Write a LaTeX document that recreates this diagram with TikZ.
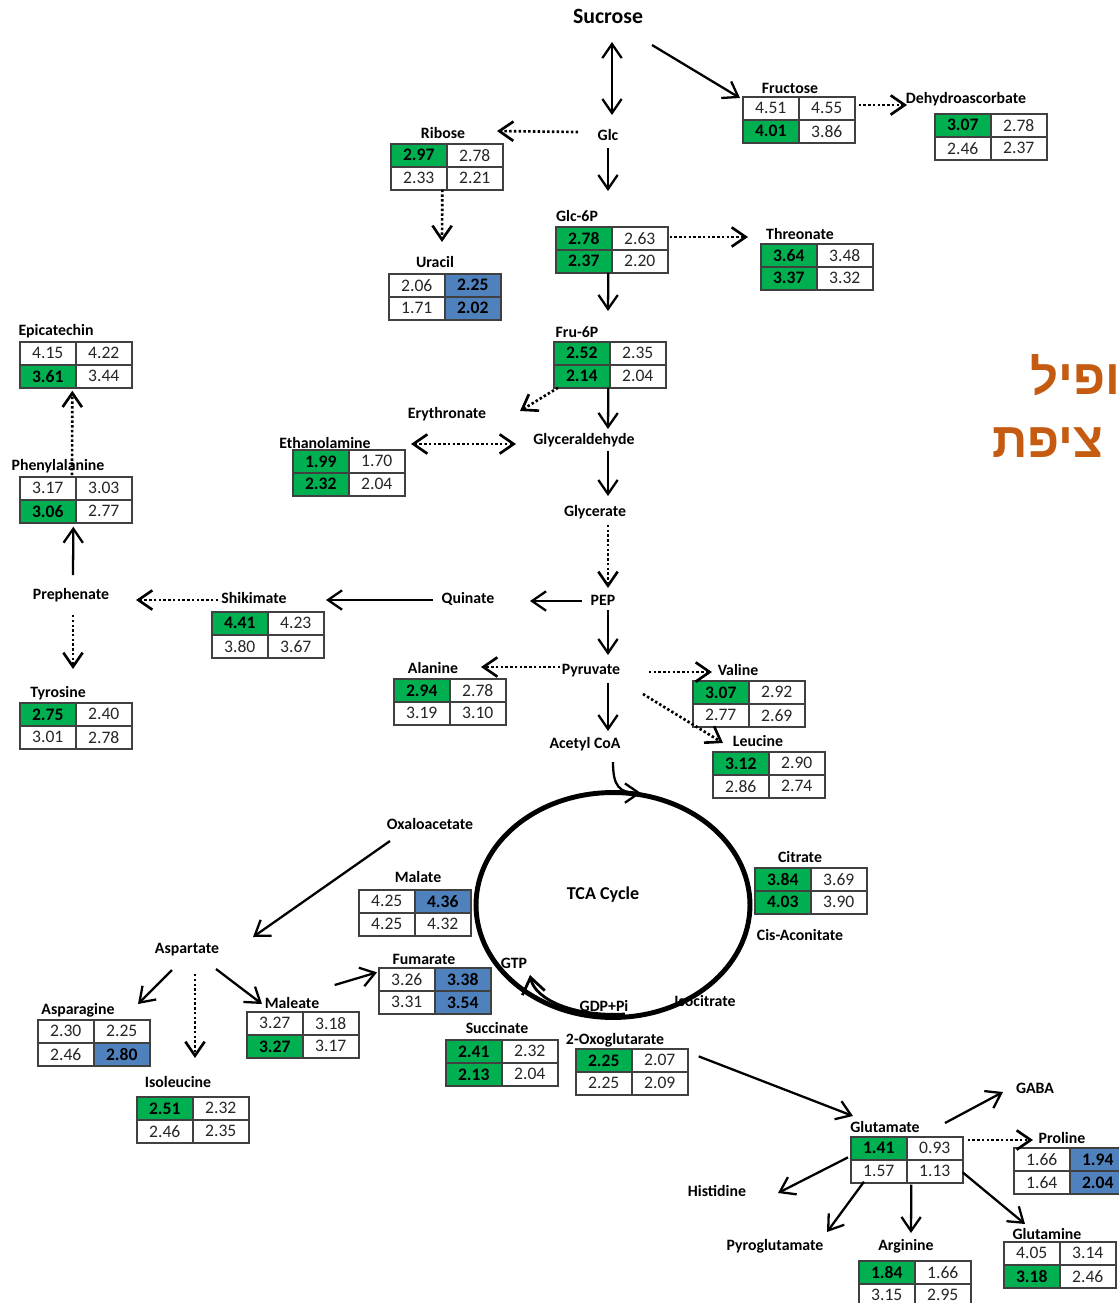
\documentclass[tikz,border=0pt]{standalone}
\usepackage{fontspec}
\setmainfont{Carlito}
\newfontfamily\hebfont[Script=Hebrew]{Liberation Sans}
\TeXXeTstate=1
\usetikzlibrary{arrows.meta,shapes.geometric,calc}
\definecolor{tgreen}{RGB}{0,176,80}
\definecolor{tblue}{RGB}{79,129,189}
\definecolor{horange}{RGB}{197,90,17}
\tikzset{
 lbl/.style={font=\bfseries\fontsize{9}{10}\selectfont, inner sep=0pt},
 cellbox/.style={draw=black!75, line width=0.9pt, minimum width=1.12cm, minimum height=0.46cm, inner sep=0pt, text=black!85, font=\fontsize{10}{11}\selectfont, anchor=north west},
 cg/.style={fill=tgreen, text=black, font=\bfseries\fontsize{10}{11}\selectfont},
 cw/.style={fill=white},
 cb/.style={fill=tblue, text=black, font=\bfseries\fontsize{10}{11}\selectfont},
 tabfr/.style={minimum width=2.24cm, minimum height=0.92cm, inner sep=0pt, anchor=north west},
 arr/.style={-{Straight Barb[length=8pt,width=11pt]}, line width=1.3pt},
 bigarr/.style={-{Straight Barb[length=9pt,width=13pt]}, line width=1.6pt},
 darr/.style={{Straight Barb[length=8pt,width=11pt]}-{Straight Barb[length=8pt,width=11pt]}, line width=1.3pt},
 dotl/.style={line width=1.5pt, dash pattern=on 1.4pt off 1.3pt}
}
\newcommand\mtab[3]{%
 \node[tabfr] (#1) at (#2) {};%
 \foreach \s/\v [count=\i from 0] in {#3}{%
  \pgfmathtruncatemacro\cc{mod(\i,2)}%
  \pgfmathtruncatemacro\rr{div(\i,2)}%
  \node[cellbox,\s] (#1-\i) at ([xshift=\cc*1.12cm,yshift=-\rr*0.46cm]#1.north west) {\v};%
 }%
}
\begin{document}
\begin{tikzpicture}[x=0.02cm,y=-0.02cm]
\useasboundingbox[fill=white] (0,0) rectangle (1119,1303);
% labels and tables
\node[lbl, font=\bfseries\fontsize{12.4}{14}\selectfont] (suc) at (608,16) {Sucrose};
\node[lbl] (glc) at (608,135) {Glc};
\node[lbl] (fru-l) at (790,88) {Fructose};
\mtab{fru}{742,96}{cw/4.51, cw/4.55, cg/4.01, cw/3.86}
\node[lbl] (dha-l) at (966,99) {Dehydroascorbate};
\mtab{dha}{934,113}{cg/3.07, cw/2.78, cw/2.46, cw/2.37}
\node[lbl] (rib-l) at (443,133) {Ribose};
\mtab{rib}{390,143}{cg/2.97, cw/2.78, cw/2.33, cw/2.21}
\node[lbl] (ura-l) at (435,262) {Uracil};
\mtab{ura}{388,273}{cw/2.06, cb/2.25, cw/1.71, cb/2.02}
\node[lbl] (g6p-l) at (577,216) {Glc-6P};
\mtab{g6p}{555,226}{cg/2.78, cw/2.63, cg/2.37, cw/2.20}
\node[lbl] (thr-l) at (800,234) {Threonate};
\mtab{thr}{760,243}{cg/3.64, cw/3.48, cg/3.37, cw/3.32}
\node[lbl] (f6p-l) at (577,332) {Fru-6P};
\mtab{f6p}{553,341}{cg/2.52, cw/2.35, cg/2.14, cw/2.04}
\node[lbl] (ery) at (447,414) {Erythronate};
\node[lbl] (gald) at (584,440) {Glyceraldehyde};
\node[lbl] (eth-l) at (325,443) {Ethanolamine};
\mtab{eth}{292,449}{cg/1.99, cw/1.70, cg/2.32, cw/2.04}
\node[lbl] (glyc) at (595,512) {Glycerate};
\node[lbl] (epi-l) at (56,331) {Epicatechin};
\mtab{epi}{19,341}{cw/4.15, cw/4.22, cg/3.61, cw/3.44}
\node[lbl] (phe-l) at (58,466) {Phenylalanine};
\mtab{phe}{19,476}{cw/3.17, cw/3.03, cg/3.06, cw/2.77}
\node[lbl] (pre) at (71,595) {Prephenate};
\node[lbl] (tyr-l) at (58,693) {Tyrosine};
\mtab{tyr}{19,702}{cg/2.75, cw/2.40, cw/3.01, cw/2.78}
\node[lbl] (shi-l) at (254,598) {Shikimate};
\mtab{shi}{211,611}{cg/4.41, cw/4.23, cw/3.80, cw/3.67}
\node[lbl] (qui) at (468,599) {Quinate};
\node[lbl] (pep) at (603,600) {PEP};
\node[lbl] (pyr) at (591,671) {Pyruvate};
\node[lbl] (ala-l) at (433,668) {Alanine};
\mtab{ala}{393,678}{cg/2.94, cw/2.78, cw/3.19, cw/3.10}
\node[lbl] (val-l) at (738,670) {Valine};
\mtab{val}{692,680}{cg/3.07, cw/2.92, cw/2.77, cw/2.69}
\node[lbl] (leu-l) at (758,741) {Leucine};
\mtab{leu}{712,751}{cg/3.12, cw/2.90, cw/2.86, cw/2.74}
\node[lbl] (acoa) at (585,744) {Acetyl CoA};
\node[lbl] (oxa) at (430,824) {Oxaloacetate};
\node[lbl] (mal-l) at (418,877) {Malate};
\mtab{mal}{358,889}{cw/4.25, cb/4.36, cw/4.25, cw/4.32}
\node[lbl] (cit-l) at (800,857) {Citrate};
\mtab{cit}{754,867}{cg/3.84, cw/3.69, cg/4.03, cw/3.90}
\node[lbl] (cis) at (800,935) {Cis-Aconitate};
\node[lbl] (fum-l) at (424,959) {Fumarate};
\mtab{fum}{378,967}{cw/3.26, cb/3.38, cw/3.31, cb/3.54}
\node[lbl] (gtp) at (514,963) {GTP};
\node[lbl] (gdp) at (604,1006) {GDP+Pi};
\node[lbl] (iso) at (705,1001) {Isocitrate};
\node[lbl] (succ-l) at (497,1028) {Succinate};
\mtab{succ}{445,1039}{cg/2.41, cw/2.32, cg/2.13, cw/2.04}
\node[lbl] (oxg-l) at (615,1040) {2-Oxoglutarate};
\mtab{oxg}{575,1048}{cg/2.25, cw/2.07, cw/2.25, cw/2.09}
\node[lbl] (asp) at (187,950) {Aspartate};
\node[lbl] (asn-l) at (78,1010) {Asparagine};
\mtab{asn}{37,1019}{cw/2.30, cw/2.25, cw/2.46, cb/2.80}
\node[lbl] (mle-l) at (292,1003) {Maleate};
\mtab{mle}{246,1011}{cw/3.27, cw/3.18, cg/3.27, cw/3.17}
\node[lbl] (ile-l) at (178,1082) {Isoleucine};
\mtab{ile}{136,1096}{cg/2.51, cw/2.32, cw/2.46, cw/2.35}
\node[lbl] (glu-l) at (885,1127) {Glutamate};
\mtab{glu}{850,1136}{cg/1.41, cw/0.93, cw/1.57, cw/1.13}
\node[lbl] (gaba) at (1035,1088) {GABA};
\node[lbl] (pro-l) at (1062,1138) {Proline};
\mtab{pro}{1013,1147}{cw/1.66, cb/1.94, cw/1.64, cb/2.04}
\node[lbl] (his) at (717,1191) {Histidine};
\node[lbl] (pyg) at (775,1246) {Pyroglutamate};
\node[lbl] (arg-l) at (906,1246) {Arginine};
\mtab{arg}{858,1260}{cg/1.84, cw/1.66, cw/3.15, cw/2.95}
\node[lbl] (gln-l) at (1047,1234) {Glutamine};
\mtab{gln}{1003,1241}{cw/4.05, cw/3.14, cg/3.18, cw/2.46}
% TCA cycle
\node[draw, ellipse, line width=2.8pt, minimum width=5.48cm, minimum height=4.5cm, inner sep=0pt] (tca) at (613,905) {};
\node[font=\bfseries\fontsize{10.3}{12}\selectfont, inner sep=0pt] (tcat) at (603,895) {TCA Cycle};
% Hebrew
\node[font=\hebfont\bfseries\fontsize{28}{30}\selectfont, text=horange, anchor=east, inner sep=0pt] (heb1) at (1121,375) {\beginR ופיל\endR};
\node[font=\hebfont\bfseries\fontsize{28}{30}\selectfont, text=horange, anchor=east, inner sep=0pt] (heb2) at (1104,443) {\beginR ציפת\endR};
% connectors
\draw[darr] ($(suc)+(4,26)$) -- ($(glc)+(4,-20)$);
\draw[arr] ($(suc)+(44,29)$) -- ($(fru-l)+(-50,10)$);
\draw[arr,dotl] ($(glc)+(-30,-3)$) -- ($(rib-l)+(54,-2)$);
\draw[arr] ($(glc)+(0,13)$) -- ($(g6p-l)+(31,-25)$);
\draw[arr,dotl] ($(rib.south)+(-4,0)$) -- ($(ura-l)+(7,-20)$);
\draw[arr,dotl] ($(fru.north east)+(4,9)$) -- ($(dha-l)+(-59,6)$);
\draw[arr,dotl] ($(g6p.north east)+(2,11)$) -- ($(thr-l)+(-52,3)$);
\draw[arr] ($(g6p.south)+(-3,0)$) -- ($(f6p-l)+(31,-21)$);
\draw[arr,dotl] ($(f6p.south west)+(5,0)$) -- ($(ery)+(73,-3)$);
\draw[arr] ($(f6p.south)+(-1,0)$) -- ($(gald)+(24,-11)$);
\draw[darr,dotl] ($(eth-l)+(86,1)$) -- ($(gald)+(-68,4)$);
\draw[arr] ($(gald)+(24,11)$) -- ($(glyc)+(13,-16)$);
\draw[arr,dotl] ($(glyc)+(13,13)$) -- ($(pep)+(5,-12)$);
\draw[arr] ($(pep)+(-21,1)$) -- ($(qui)+(62,2)$);
\draw[arr] ($(qui)+(-35,1)$) -- ($(shi-l)+(72,2)$);
\draw[arr,dotl] ($(shi-l)+(-36,2)$) -- ($(pre)+(65,5)$);
\draw[arr] ($(pre)+(2,-20)$) -- ($(phe.south)+(-2,4)$);
\draw[arr,dotl] ($(phe-l)+(14,9)$) -- ($(epi.south)+(-3,3)$);
\draw[arr,dotl] ($(pre)+(2,20)$) -- ($(tyr-l)+(15,-24)$);
\draw[arr] ($(pep)+(5,10)$) -- ($(pyr)+(17,-16)$);
\draw[arr,dotl] ($(pyr)+(-31,-4)$) -- ($(ala-l)+(48,-1)$);
\draw[arr,dotl] ($(pyr)+(58,1)$) -- ($(val-l)+(-26,2)$);
\draw[arr,dotl] ($(pyr)+(52,23)$) -- ($(leu-l)+(-35,2)$);
\draw[arr] ($(pyr)+(17,12)$) -- ($(acoa)+(23,-13)$);
\draw[arr] ($(acoa)+(28,18)$) .. controls ($(acoa)+(28,42)$) and ($(tca.north)+(6,3)$) .. ($(tca.north)+(28,3)$);
\draw[arr] ($(oxa)+(-40,17)$) -- ($(asp)+(66,-13)$);
\draw[arr] ($(asp)+(-15,20)$) -- ($(asn-l)+(60,-6)$);
\draw[arr,dotl] ($(asp)+(8,24)$) -- ($(ile-l)+(17,-24)$);
\draw[arr] ($(asp)+(29,19)$) -- ($(mle-l)+(-30,1)$);
\draw[arr] ($(mle.north east)+(-24,-26)$) -- ($(fum.west)+(-1,-18)$);
\draw[bigarr] ($(gdp)+(21,8)$) .. controls ($(gdp)+(-29,11)$) and ($(gtp)+(21,37)$) .. ($(gtp)+(16,12)$);
\draw[arr] ($(oxg.east)+(11,-15)$) -- ($(glu-l)+(-32,-11)$);
\draw[arr] ($(glu-l)+(60,-4)$) -- ($(gaba)+(-32,4)$);
\draw[arr,dotl] ($(glu.north east)+(5,4)$) -- ($(pro-l)+(-29,2)$);
\draw[arr] ($(glu.west)+(-2,-2)$) -- ($(his)+(61,2)$);
\draw[arr] ($(glu.south west)+(14,-1)$) -- ($(pyg)+(52,-14)$);
\draw[arr] ($(glu.south)+(5,2)$) -- ($(arg-l)+(5,-13)$);
\draw[arr] ($(glu.east)+(0,13)$) -- ($(gln-l)+(-22,-10)$);
\end{tikzpicture}
\end{document}
